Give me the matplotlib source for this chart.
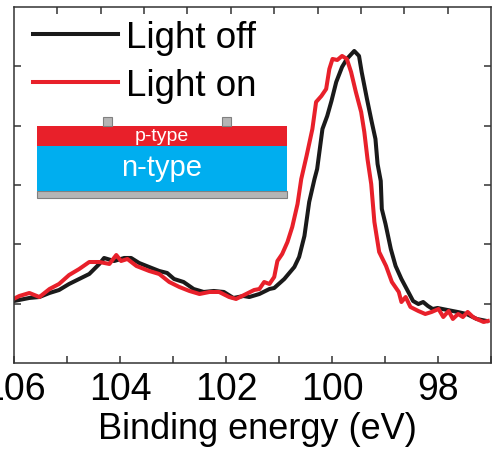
import numpy as np
import matplotlib
matplotlib.use('Agg')
import matplotlib.pyplot as plt
from matplotlib.patches import Rectangle

plt.rcParams['font.family'] = ['Liberation Sans', 'DejaVu Sans']

# Espectro con la luz apagada (energía de enlace en eV, intensidad en u.a.)
e_off = [106.00, 105.71, 105.52, 105.33, 105.15, 104.96, 104.77, 104.58, 104.39, 104.30,
         104.11, 103.92, 103.79, 103.64, 103.45, 103.26, 103.11, 102.98, 102.80, 102.61,
         102.42, 102.23, 102.04, 101.86, 101.67, 101.56, 101.37, 101.18, 101.09, 100.90,
         100.71, 100.62, 100.52, 100.43, 100.33, 100.28, 100.18, 100.09, 100.01, 99.92,
         99.81, 99.72, 99.58, 99.49, 99.44, 99.34, 99.25, 99.18, 99.14, 99.08,
         99.06, 98.99, 98.89, 98.80, 98.69, 98.56, 98.47, 98.37, 98.28, 98.19,
         98.10, 98.01, 97.82, 97.63, 97.46, 97.27, 97.08]
i_off = [1.045, 1.096, 1.112, 1.180, 1.230, 1.332, 1.416, 1.500, 1.669, 1.770,
         1.719, 1.770, 1.770, 1.686, 1.618, 1.551, 1.517, 1.416, 1.365, 1.247,
         1.197, 1.214, 1.197, 1.096, 1.129, 1.112, 1.163, 1.247, 1.264, 1.416,
         1.618, 1.787, 2.141, 2.714, 3.101, 3.270, 3.944, 4.163, 4.416, 4.736,
         4.989, 5.124, 5.259, 5.175, 4.905, 4.450, 4.062, 3.776, 3.354, 3.068,
         2.596, 2.343, 1.921, 1.635, 1.416, 1.197, 1.045, 0.994, 1.028, 0.961,
         0.910, 0.927, 0.893, 0.860, 0.826, 0.742, 0.708]

# Espectro con la luz encendida
e_on = [106.01, 105.90, 105.71, 105.52, 105.33, 105.15, 104.96, 104.77, 104.58, 104.39,
        104.20, 104.07, 103.98, 103.86, 103.69, 103.45, 103.26, 103.07, 102.88, 102.69,
        102.50, 102.31, 102.13, 101.94, 101.81, 101.62, 101.47, 101.37, 101.28, 101.18,
        101.09, 101.03, 100.94, 100.84, 100.75, 100.65, 100.58, 100.48, 100.37, 100.30,
        100.20, 100.11, 100.05, 99.99, 99.90, 99.81, 99.72, 99.64, 99.55, 99.45,
        99.39, 99.33, 99.26, 99.20, 99.11, 98.98, 98.87, 98.74, 98.69, 98.61,
        98.52, 98.37, 98.24, 98.12, 97.99, 97.90, 97.80, 97.72, 97.62, 97.53,
        97.44, 97.34, 97.27, 97.14, 97.06]
i_on = [1.079, 1.129, 1.180, 1.112, 1.247, 1.332, 1.483, 1.584, 1.702, 1.702,
        1.669, 1.820, 1.719, 1.753, 1.635, 1.551, 1.500, 1.365, 1.281, 1.214,
        1.163, 1.197, 1.197, 1.112, 1.079, 1.163, 1.230, 1.247, 1.365, 1.332,
        1.450, 1.719, 1.837, 2.039, 2.292, 2.680, 3.101, 3.489, 3.944, 4.399,
        4.500, 4.618, 4.955, 5.124, 5.107, 5.175, 5.124, 4.905, 4.568, 4.231,
        3.893, 3.438, 3.017, 2.377, 1.871, 1.635, 1.365, 1.197, 1.028, 1.112,
        0.944, 0.876, 0.826, 0.860, 0.910, 0.775, 0.876, 0.742, 0.826, 0.775,
        0.860, 0.775, 0.742, 0.691, 0.708]

x_ticks = [106, 105, 104, 103, 102, 101, 100, 99, 98, 97]
x_labels = ['106', '', '104', '', '102', '', '100', '', '98', '']

fig = plt.figure(figsize=(4.96, 4.52), dpi=100)
ax = fig.add_axes([0.0282, 0.1947, 0.9617, 0.7876])

ax.plot(e_off, i_off, color='#1a1a1a', lw=2.9, label='Light off', solid_joinstyle='round')
ax.plot(e_on, i_on, color='#e8202a', lw=2.9, label='Light on', solid_joinstyle='round')

ax.set_xlim(106, 97)
ax.set_ylim(0, 6)
ax.set_xticks(x_ticks)
ax.set_xticklabels(x_labels)
ax.set_yticks([1, 2, 3, 4, 5])
ax.set_yticklabels([])
ax.tick_params(direction='in', length=5, width=1.1, color='#333333',
               labelsize=27, pad=6, left=True, right=True)
ax.set_xlabel('Binding energy (eV)', fontsize=26, labelpad=2)
ax.xaxis.set_label_coords(0.51, -0.135)
for s in ax.spines.values():
    s.set_linewidth(1.1)
    s.set_color('#333333')

# Eje superior con sus propias marcas
ax_top = ax.twiny()
ax_top.set_xlim(0, 11)
ax_top.set_xticks(range(1, 11))
ax_top.set_xticklabels([])
ax_top.tick_params(direction='in', length=5, width=1.1, color='#333333')
for s in ax_top.spines.values():
    s.set_visible(False)

ax.legend(loc='upper left', bbox_to_anchor=(0.025, 0.985), frameon=False, fontsize=26.5,
          handlelength=2.3, handletextpad=0.22, labelspacing=0.35, borderpad=0.2,
          borderaxespad=0)

# Esquema del dispositivo
tr = ax.transAxes
ax.add_patch(Rectangle((0.048, 0.4635), 0.524, 0.0195, transform=tr,
                       facecolor='#b5b5b5', edgecolor='#808080', lw=0.8, zorder=3))
ax.add_patch(Rectangle((0.048, 0.483), 0.524, 0.127, transform=tr,
                       facecolor='#00aeef', edgecolor='none', zorder=3))
ax.add_patch(Rectangle((0.048, 0.610), 0.524, 0.056, transform=tr,
                       facecolor='#e8202a', edgecolor='none', zorder=3))
for cx in [0.187, 0.436]:
    ax.add_patch(Rectangle((cx, 0.666), 0.019, 0.025, transform=tr,
                           facecolor='#b5b5b5', edgecolor='#808080', lw=0.8, zorder=3))
ax.text(0.31, 0.638, 'p-type', transform=tr, ha='center', va='center',
        color='white', fontsize=14, zorder=4)
ax.text(0.31, 0.55, 'n-type', transform=tr, ha='center', va='center',
        color='white', fontsize=21, zorder=4)

fig.savefig('out.png', dpi=100)
